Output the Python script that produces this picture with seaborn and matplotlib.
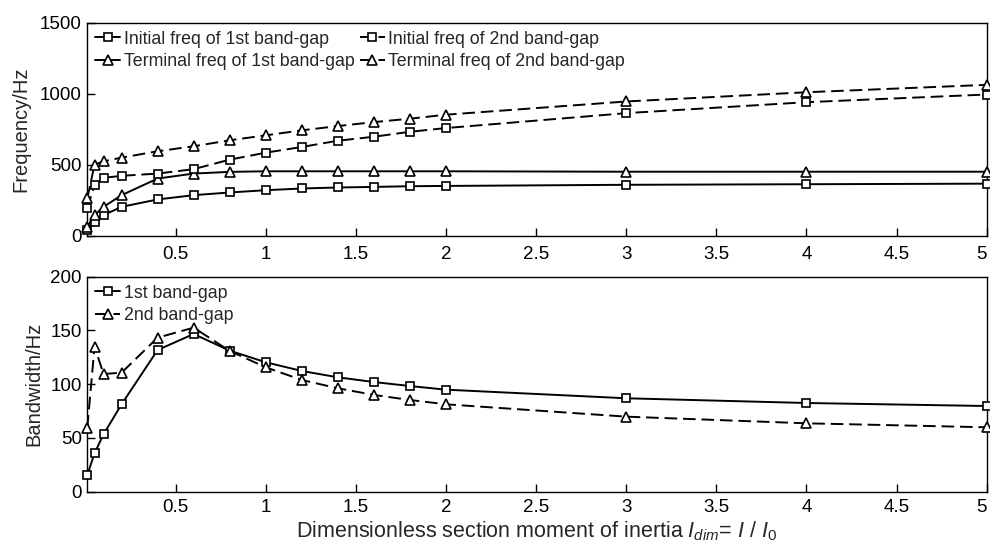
import numpy as np
import pandas as pd
import matplotlib
matplotlib.use("Agg")
import matplotlib.pyplot as plt
import seaborn as sns

# ---------------- data ----------------
x_vals = [0.01, 0.05, 0.1, 0.2, 0.4, 0.6, 0.8, 1.0, 1.2, 1.4, 1.6, 1.8, 2.0, 3.0, 4.0, 5.0]

init_1st = [42, 100, 147, 205, 257, 287, 306, 322, 334, 341, 345, 350, 352, 360, 364, 368]
term_1st = [65, 147, 205, 287, 404, 439, 451, 455, 455, 455, 455, 455, 455, 452, 452, 452]
init_2nd = [194, 357, 409, 423, 439, 470, 537, 586, 626, 670, 698, 733, 759, 864, 941, 995]
term_2nd = [264, 502, 525, 551, 596, 631, 673, 708, 743, 773, 801, 825, 853, 946, 1011, 1063]

bw_1st = [15.5, 35.7, 53.4, 81.3, 131.8, 146.7, 131.2, 120.4, 112.3, 106.4, 102.0, 98.3, 94.9, 86.9, 82.5, 79.7]
bw_2nd = [59.5, 134.9, 109.5, 110.7, 143.3, 152.6, 130.9, 115.7, 103.9, 96.2, 90.0, 85.3, 81.3, 69.8, 63.6, 59.9]

top_labels = ["Initial freq of 1st band-gap", "Terminal freq of 1st band-gap",
              "Initial freq of 2nd band-gap", "Terminal freq of 2nd band-gap"]
bot_labels = ["1st band-gap", "2nd band-gap"]

xticks = [0.5, 1, 1.5, 2, 2.5, 3, 3.5, 4, 4.5, 5]
top_yticks = [0, 500, 1000, 1500]
bot_yticks = [0, 50, 100, 150, 200]

# ---------------- style ----------------
sns.set_style("ticks")
plt.rcParams["font.family"] = ["Liberation Sans", "DejaVu Sans"]
plt.rcParams["mathtext.fontset"] = "custom"
plt.rcParams["mathtext.rm"] = "Liberation Sans"
plt.rcParams["mathtext.it"] = "Liberation Sans:italic"
plt.rcParams["axes.edgecolor"] = "black"
plt.rcParams["axes.linewidth"] = 1.0

fig = plt.figure(figsize=(9.9, 5.46), dpi=100)
ax1 = fig.add_axes([0.0882, 0.5678, 0.9085, 0.3906])
ax2 = fig.add_axes([0.0882, 0.0995, 0.9085, 0.3937])

top_df = pd.DataFrame({"x": x_vals * 4,
                       "y": init_1st + term_1st + init_2nd + term_2nd,
                       "series": sum([[l] * len(x_vals) for l in top_labels], [])})
bot_df = pd.DataFrame({"x": x_vals * 2,
                       "y": bw_1st + bw_2nd,
                       "series": sum([[l] * len(x_vals) for l in bot_labels], [])})

DASH = (0, (6.5, 3))
styles = {
    top_labels[0]: dict(marker="s", ls="-"),
    top_labels[1]: dict(marker="^", ls="-"),
    top_labels[2]: dict(marker="s", ls=DASH),
    top_labels[3]: dict(marker="^", ls=DASH),
    bot_labels[0]: dict(marker="s", ls="-"),
    bot_labels[1]: dict(marker="^", ls=DASH),
}

def draw(ax, df, labels):
    for lab in labels:
        st = styles[lab]
        sns.lineplot(data=df[df["series"] == lab], x="x", y="y", ax=ax,
                     color="black", linewidth=1.4, linestyle=st["ls"],
                     marker=st["marker"], markersize=6.5 if st["marker"] == "^" else 5.8,
                     markerfacecolor="white", markeredgecolor="black",
                     markeredgewidth=1.2, label=lab, clip_on=False, zorder=3)

draw(ax1, top_df, top_labels)
draw(ax2, bot_df, bot_labels)

for ax, xpad in ((ax1, 7), (ax2, 5.5)):
    ax.set_xlim(0.01, 5)
    ax.set_xticks(xticks)
    ax.set_xticklabels([f"{t:g}" for t in xticks])
    ax.tick_params(direction="in", length=6, width=1, labelsize=13.5,
                   colors="black", top=False, right=False)
    ax.tick_params(axis="x", pad=xpad)
    ax.tick_params(axis="y", pad=4)
    ax.get_xticklabels()[-1].set_horizontalalignment("right")
    for s in ax.spines.values():
        s.set_visible(True)
        s.set_color("black")
        s.set_linewidth(1.0)

ax1.set_ylim(0, 1500)
ax1.set_yticks(top_yticks)
ax1.set_xlabel("")
ax1.set_ylabel("Frequency/Hz", fontsize=14.5, labelpad=7)

ax2.set_ylim(0, 200)
ax2.set_yticks(bot_yticks)
ax2.set_ylabel("Bandwidth/Hz", fontsize=14.5, labelpad=5)
ax2.set_xlabel(r"Dimensionless section moment of inertia $I_{dim}$= $I$ / $I_0$",
               fontsize=15.5)
ax2.xaxis.set_label_coords(0.5, -0.128)

h, l = ax1.get_legend_handles_labels()
ax1.legend(h, l, loc="upper left", ncol=2, frameon=False, fontsize=12.8,
           handlelength=1.4, handletextpad=0.2, columnspacing=0.3,
           labelspacing=0.3, borderaxespad=0.25, borderpad=0.2)
h, l = ax2.get_legend_handles_labels()
ax2.legend(h, l, loc="upper left", ncol=1, frameon=False, fontsize=12.8,
           handlelength=1.4, handletextpad=0.2,
           labelspacing=0.3, borderaxespad=0.25, borderpad=0.2)

fig.savefig("out.png", dpi=100)
